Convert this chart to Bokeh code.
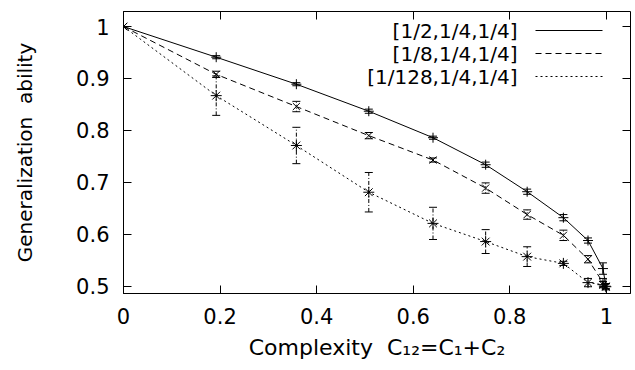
from bokeh.plotting import figure
from bokeh.models import (Range1d, FixedTicker, LinearAxis, Whisker, TeeHead,
                          ColumnDataSource, Label, NumeralTickFormatter)
from bokeh.embed import file_html
from bokeh.resources import INLINE

# ---- data ----
complexity = [0.0, 0.192, 0.358, 0.508, 0.641, 0.750, 0.836, 0.911, 0.962, 0.993, 0.999]

gen_half = [1.0, 0.941, 0.889, 0.837, 0.786, 0.734, 0.682, 0.632, 0.588, 0.534, 0.500]
err_half = [0.0, 0.003, 0.003, 0.004, 0.003, 0.005, 0.005, 0.006, 0.005, 0.011, 0.005]

gen_eighth = [1.0, 0.908, 0.846, 0.790, 0.743, 0.689, 0.638, 0.598, 0.552, 0.507, 0.500]
err_eighth = [0.0, 0.006, 0.010, 0.006, 0.004, 0.010, 0.009, 0.010, 0.007, 0.008, 0.005]

gen_128 = [1.0, 0.867, 0.771, 0.681, 0.621, 0.586, 0.557, 0.544, 0.507, 0.503, 0.499]
err_128 = [0.0, 0.038, 0.035, 0.038, 0.031, 0.023, 0.019, 0.004, 0.008, 0.006, 0.006]

series_labels = ["[1/2,1/4,1/4]", "[1/8,1/4,1/4]", "[1/128,1/4,1/4]"]
x_ticks = [0, 0.2, 0.4, 0.6, 0.8, 1.0]
y_ticks = [0.5, 0.6, 0.7, 0.8, 0.9, 1.0]
x_label = "Complexity \u00a0C\u2081\u2082=C\u2081+C\u2082"
y_label = "Generalization \u00a0ability"

FONT = "DejaVu Sans"
X0, X1 = 0.0, 1.05
Y0, Y1 = 0.486, 1.029

p = figure(width=635, height=370, output_backend="svg", toolbar_location=None,
           x_range=Range1d(X0, X1), y_range=Range1d(Y0, Y1),
           min_border_left=123, min_border_right=5, min_border_top=11,
           min_border_bottom=77, background_fill_color="white",
           border_fill_color="white")
p.grid.visible = False
p.outline_line_color = "black"
p.outline_line_width = 1

fmt = NumeralTickFormatter(format="0.[0]")
for ax, ticks in ((p.xaxis[0], x_ticks), (p.yaxis[0], y_ticks)):
    ax.ticker = FixedTicker(ticks=ticks)
    ax.formatter = fmt
    ax.major_tick_in = 8
    ax.major_tick_out = 0
    ax.minor_tick_line_color = None
    ax.axis_line_color = "black"
    ax.major_tick_line_color = "black"
    ax.major_label_text_font = FONT
    ax.major_label_text_font_size = "21px"
    ax.major_label_text_color = "black"
    ax.axis_label_text_font = FONT
    ax.axis_label_text_color = "black"
    ax.axis_label_text_font_style = "normal"

p.xaxis[0].axis_label = x_label
p.xaxis[0].axis_label_text_font_size = "22px"
p.xaxis[0].major_label_standoff = 14
p.xaxis[0].axis_label_standoff = 8
p.yaxis[0].axis_label = y_label
p.yaxis[0].axis_label_text_font_size = "20px"
p.yaxis[0].major_label_standoff = 14
p.yaxis[0].axis_label_standoff = 36

# mirrored ticks on top and right
for loc, ticks in (("above", x_ticks), ("right", y_ticks)):
    ax = LinearAxis(ticker=FixedTicker(ticks=ticks), major_tick_in=8, major_tick_out=0,
                    minor_tick_line_color=None, axis_line_color=None,
                    major_tick_line_color="black", major_label_text_font_size="1px",
                    major_label_text_color=None, major_label_standoff=0)
    p.add_layout(ax, loc)

series = [
    (gen_half, err_half, "solid", "solid", "cross", 10),
    (gen_eighth, err_eighth, "6 4", "1 2", "x", 10),
    (gen_128, err_128, "2 3", "4 2 1 2", "asterisk", 11),
]

for ys, es, dash, edash, marker, msize in series:
    src = ColumnDataSource(dict(x=complexity, y=ys,
                                lo=[a - b for a, b in zip(ys, es)],
                                hi=[a + b for a, b in zip(ys, es)]))
    p.line("x", "y", source=src, line_color="black", line_width=1, line_dash=dash)
    w = Whisker(source=src, base="x", lower="lo", upper="hi", dimension="height",
                line_color="black", line_width=1, line_dash=edash,
                lower_head=TeeHead(size=8, line_color="black", line_width=1),
                upper_head=TeeHead(size=8, line_color="black", line_width=1))
    p.add_layout(w)
    p.scatter("x", "y", source=src, marker=marker, size=msize,
              line_color="black", fill_color=None, line_width=1)

# legend (gnuplot style: text right-aligned, line sample on the right)
def px_x(px):
    return X0 + (px - 123) / 507 * (X1 - X0)

def px_y(py):
    return Y1 - (py - 11) / 282 * (Y1 - Y0)

legend_rows = [30, 53, 76]
for (ys, es, dash, edash, marker, msize), lab, row in zip(series, series_labels, legend_rows):
    p.add_layout(Label(x=px_x(517), y=px_y(row), text=lab, text_align="right",
                       text_baseline="middle", text_font=FONT, text_font_size="20px",
                       text_color="black"))
    p.segment(x0=[px_x(535)], y0=[px_y(row)], x1=[px_x(602)], y1=[px_y(row)],
              line_color="black", line_width=1, line_dash=dash)

open("out.html", "w").write(file_html(p, INLINE))
